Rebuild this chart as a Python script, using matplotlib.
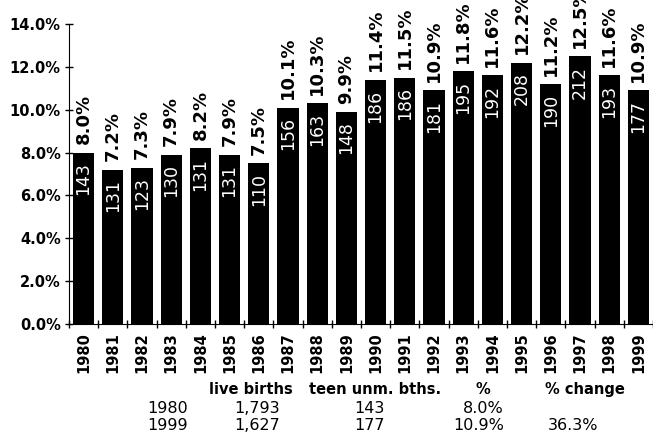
import matplotlib
matplotlib.use("Agg")
import matplotlib.pyplot as plt
import numpy as np

# -------------------------------------------------------------------------
# Data
# -------------------------------------------------------------------------
years = [str(y) for y in range(1980, 2000)]
pct = [8.0, 7.2, 7.3, 7.9, 8.2, 7.9, 7.5, 10.1, 10.3, 9.9,
       11.4, 11.5, 10.9, 11.8, 11.6, 12.2, 11.2, 12.5, 11.6, 10.9]
teen_births = [143, 131, 123, 130, 131, 131, 110, 156, 163, 148,
               186, 186, 181, 195, 192, 208, 190, 212, 193, 177]

table_header = ["live births", "teen unm. bths.", "%", "% change"]
table_rows = [
    ["1980", "1,793", "143", "8.0%", ""],
    ["1999", "1,627", "177", "10.9%", "36.3%"],
]

plt.rcParams["font.family"] = ["DejaVu Sans"]

W, H = 653, 440
fig = plt.figure(figsize=(W / 100, H / 100), dpi=100)
ax = fig.add_axes([69 / W, (H - 324) / H, (W - 69) / W, 300 / H])

x = np.arange(len(years))
ax.bar(x, pct, width=0.72, color="black")

for xi, p, n in zip(x, pct, teen_births):
    ax.annotate(f"{p:.1f}%", (xi, p), xytext=(0, 6), textcoords="offset points",
                rotation=90, ha="center", va="bottom", fontsize=13,
                fontweight="bold", annotation_clip=False)
    ax.annotate(f"{n}", (xi, p), xytext=(0, -7), textcoords="offset points",
                rotation=90, ha="center", va="top", fontsize=12.5,
                color="white")

ax.set_xlim(-0.5, len(years) - 0.5)
ax.set_ylim(0, 14)
ax.set_yticks(np.arange(0, 15, 2))
ax.set_yticklabels([f"{v:.1f}%" for v in np.arange(0, 15, 2)],
                   fontsize=10.5, fontweight="bold")
ax.set_xticks(np.arange(-0.5, len(years), 1.0))
ax.set_xticklabels([])
ax.set_xticks(x, minor=True)
ax.set_xticklabels(years, minor=True, rotation=90, fontsize=10.5,
                   fontweight="bold", va="top")
ax.tick_params(axis="x", which="minor", length=0, pad=6)
ax.tick_params(axis="both", which="major", direction="inout", length=6,
               width=1)
ax.tick_params(axis="y", pad=3)

for s in ["top", "right"]:
    ax.spines[s].set_visible(False)

# -------------------------------------------------------------------------
# Table below chart
# -------------------------------------------------------------------------
def fx(px):
    return px / W

def fy(py):
    return (H - py) / H

header_x = [251, 375, 483, 585]
for txt, cx in zip(table_header, header_x):
    fig.text(fx(cx), fy(389), txt, ha="center", va="center",
             fontsize=10.5, fontweight="bold")

col_right = [188, 280, 385, 504, 598]
for row, cy in zip(table_rows, [408, 425]):
    for txt, rx in zip(row, col_right):
        fig.text(fx(rx), fy(cy), txt, ha="right", va="center", fontsize=11.5)

fig.savefig("out.png", dpi=100)
